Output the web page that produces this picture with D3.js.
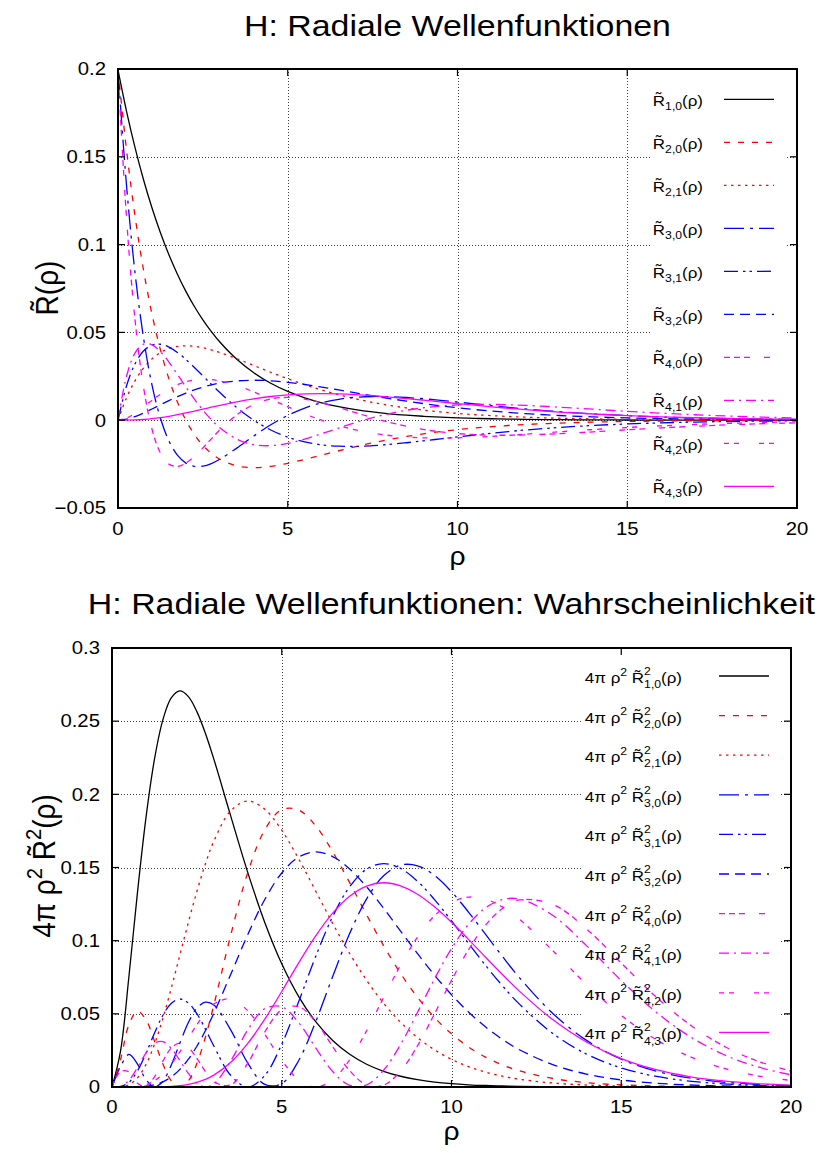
<!DOCTYPE html>
<html><head><meta charset="utf-8">
<script src="https://cdn.jsdelivr.net/npm/d3@7"></script>
<style>
body{margin:0;background:#fff}
text{font-family:"Liberation Sans",Arial,Helvetica,sans-serif;fill:#000}
</style>
</head><body>
<svg id="c" width="824" height="1153" xmlns="http://www.w3.org/2000/svg"></svg>
<script>
// ---------------- DATA ----------------
const rho = [0,0.25,0.5,0.75,1,1.25,1.5,1.75,2,2.25,2.5,2.75,3,3.5,4,4.5,5,5.5,6,6.5,7,7.5,8,8.5,9,9.5,10,10.5,11,11.5,12,13,14,15,16,17,18,19,20];

const stateLabels = ["1,0","2,0","2,1","3,0","3,1","3,2","4,0","4,1","4,2","4,3"];

// radial wave functions R~(rho)
const R10 = [0.19947,0.17603,0.15535,0.13709,0.12099,0.10677,0.09422,0.08315,0.07338,0.06476,0.05715,0.05043,0.04451,0.03466,0.02700,0.02102,0.01637,0.01275,0.00993,0.00773,0.00602,0.00469,0.00365,0.00285,0.00222,0.00173,0.00134,0.00105,0.00082,0.00063,0.00049,0.00030,0.00018,0.00011,0.00007,0.00004,0.00002,0.00001,0.00001];
const R20 = [0.19947,0.15403,0.11651,0.08568,0.06049,0.04004,0.02356,0.01039,0,-0.00810,-0.01429,-0.01891,-0.02225,-0.02600,-0.02700,-0.02628,-0.02456,-0.02232,-0.01986,-0.01740,-0.01506,-0.01290,-0.01096,-0.00925,-0.00776,-0.00647,-0.00538,-0.00445,-0.00367,-0.00302,-0.00247,-0.00165,-0.00109,-0.00072,-0.00047,-0.00030,-0.00020,-0.00013,-0.00008];
const R21 = [0,0.01270,0.02242,0.02968,0.03493,0.03853,0.04080,0.04201,0.04237,0.04206,0.04124,0.04004,0.03855,0.03502,0.03117,0.02731,0.02363,0.02025,0.01720,0.01451,0.01217,0.01016,0.00844,0.00698,0.00576,0.00473,0.00388,0.00317,0.00259,0.00211,0.00171,0.00113,0.00074,0.00048,0.00031,0.00020,0.00013,0.00008,0.00005];
const R30 = [0.19947,0.13386,0.08415,0.04713,0.02016,0.00111,-0.01178,-0.01992,-0.02446,-0.02631,-0.02619,-0.02469,-0.02225,-0.01589,-0.00900,-0.00263,0.00273,0.00691,0.00993,0.01192,0.01305,0.01349,0.01340,0.01292,0.01219,0.01129,0.01030,0.00929,0.00829,0.00733,0.00643,0.00485,0.00358,0.00259,0.00185,0.00131,0.00091,0.00063,0.00043];
const R31 = [0,0.01945,0.03204,0.03938,0.04278,0.04325,0.04164,0.03859,0.03459,0.03005,0.02526,0.02043,0.01574,0.00715,0,-0.00557,-0.00965,-0.01240,-0.01405,-0.01481,-0.01491,-0.01451,-0.01378,-0.01283,-0.01175,-0.01063,-0.00950,-0.00842,-0.00740,-0.00645,-0.00559,-0.00413,-0.00300,-0.00215,-0.00151,-0.00106,-0.00073,-0.00050,-0.00034];
const R32 = [0,0.00058,0.00205,0.00406,0.00638,0.00879,0.01117,0.01342,0.01547,0.01728,0.01883,0.02010,0.02111,0.02238,0.02276,0.02244,0.02157,0.02033,0.01884,0.01722,0.01556,0.01391,0.01232,0.01083,0.00946,0.00821,0.00708,0.00608,0.00520,0.00443,0.00375,0.00267,0.00188,0.00131,0.00090,0.00062,0.00042,0.00028,0.00019];
const R40 = [0.19947,0.11541,0.05745,0.01901,-0.00504,-0.01870,-0.02503,-0.02636,-0.02446,-0.02062,-0.01578,-0.01061,-0.00556,0.00307,0.00900,0.01216,0.01296,0.01202,0.00993,0.00721,0.00427,0.00139,-0.00122,-0.00345,-0.00526,-0.00664,-0.00762,-0.00823,-0.00853,-0.00857,-0.00841,-0.00766,-0.00661,-0.00547,-0.00439,-0.00344,-0.00263,-0.00198,-0.00147];
const R41 = [0,0.02495,0.03823,0.04335,0.04295,0.03904,0.03307,0.02612,0.01895,0.01205,0.00576,0.00028,-0.00431,-0.01077,-0.01394,-0.01450,-0.01321,-0.01075,-0.00769,-0.00446,-0.00136,0.00142,0.00377,0.00566,0.00708,0.00807,0.00868,0.00896,0.00897,0.00878,0.00843,0.00742,0.00625,0.00507,0.00401,0.00310,0.00235,0.00175,0.00129];
const R42 = [0,0.00118,0.00398,0.00754,0.01127,0.01477,0.01778,0.02017,0.02188,0.02291,0.02330,0.02310,0.02239,0.01978,0.01610,0.01190,0.00763,0.00359,0,-0.00304,-0.00550,-0.00738,-0.00871,-0.00958,-0.01003,-0.01016,-0.01002,-0.00968,-0.00919,-0.00861,-0.00796,-0.00661,-0.00531,-0.00416,-0.00319,-0.00240,-0.00178,-0.00131,-0.00094];
const R43 = [0,0.00002,0.00014,0.00041,0.00085,0.00147,0.00224,0.00314,0.00413,0.00520,0.00629,0.00739,0.00846,0.01047,0.01217,0.01349,0.01442,0.01494,0.01511,0.01496,0.01455,0.01394,0.01317,0.01231,0.01138,0.01042,0.00947,0.00853,0.00764,0.00680,0.00602,0.00464,0.00352,0.00262,0.00193,0.00140,0.00101,0.00072,0.00051];

// probability densities 4*pi*rho^2*R~^2(rho)
const P10 = [0,0.02434,0.07582,0.13285,0.18394,0.22383,0.25102,0.26609,0.27067,0.26679,0.25652,0.24173,0.22404,0.18496,0.14652,0.11248,0.08423,0.06181,0.04462,0.03176,0.02234,0.01556,0.01074,0.00735,0.00500,0.00338,0.00227,0.00152,0.00101,0.00067,0.00044,0.00019,0.00008,0.00003,0.00001,0.00001,0,0,0];
const P20 = [0,0.01863,0.04265,0.05190,0.04599,0.03148,0.01569,0.00416,0,0.00417,0.01603,0.03399,0.05601,0.10404,0.14652,0.17574,0.18950,0.18930,0.17847,0.16078,0.13963,0.11764,0.09662,0.07764,0.06123,0.04750,0.03632,0.02742,0.02046,0.01511,0.01106,0.00578,0.00293,0.00145,0.00071,0.00034,0.00016,0.00007,0.00003];
const P21 = [0,0.00013,0.00158,0.00623,0.01533,0.02915,0.04707,0.06791,0.09022,0.11255,0.13360,0.15234,0.16803,0.18881,0.19537,0.18981,0.17547,0.15582,0.13385,0.11182,0.09123,0.07292,0.05726,0.04425,0.03374,0.02540,0.01892,0.01395,0.01019,0.00738,0.00531,0.00269,0.00133,0.00065,0.00031,0.00014,0.00007,0.00003,0.00001];
const P30 = [0,0.01407,0.02224,0.01570,0.00511,0.00002,0.00392,0.01527,0.03008,0.04403,0.05389,0.05794,0.05601,0.03886,0.01628,0.00176,0.00234,0.01814,0.04462,0.07548,0.10488,0.12858,0.14433,0.15161,0.15119,0.14454,0.13342,0.11956,0.10445,0.08923,0.07477,0.04992,0.03152,0.01901,0.01103,0.00619,0.00338,0.00180,0.00094];
const P31 = [0,0.00030,0.00322,0.01096,0.02299,0.03674,0.04903,0.05730,0.06015,0.05745,0.05010,0.03967,0.02801,0.00787,0,0.00791,0.02924,0.05843,0.08924,0.11648,0.13684,0.14888,0.15268,0.14936,0.14057,0.12807,0.11350,0.09820,0.08321,0.06921,0.05663,0.03631,0.02219,0.01301,0.00738,0.00406,0.00218,0.00114,0.00059];
const P32 = [0,0,0.00001,0.00012,0.00051,0.00152,0.00353,0.00693,0.01203,0.01899,0.02783,0.03840,0.05041,0.07710,0.10419,0.12812,0.14623,0.15712,0.16063,0.15749,0.14900,0.13672,0.12214,0.10658,0.09109,0.07643,0.06306,0.05125,0.04110,0.03255,0.02548,0.01515,0.00870,0.00484,0.00262,0.00139,0.00072,0.00037,0.00018];
const P40 = [0,0.01046,0.01037,0.00255,0.00032,0.00687,0.01771,0.02675,0.03008,0.02704,0.01955,0.01069,0.00350,0.00145,0.01628,0.03759,0.05279,0.05493,0.04462,0.02761,0.01121,0.00137,0.00119,0.01082,0.02819,0.05004,0.07289,0.09377,0.11053,0.12199,0.12785,0.12459,0.10758,0.08475,0.06212,0.04293,0.02825,0.01783,0.01086];
const P41 = [0,0.00049,0.00459,0.01328,0.02318,0.02992,0.03093,0.02627,0.01805,0.00924,0.00261,0.00001,0.00210,0.01785,0.03907,0.05353,0.05484,0.04395,0.02677,0.01057,0.00114,0.00142,0.01145,0.02908,0.05103,0.07385,0.09458,0.11115,0.12240,0.12805,0.12848,0.11704,0.09610,0.07280,0.05169,0.03480,0.02240,0.01387,0.00831];
const P42 = [0,0,0.00005,0.00040,0.00160,0.00428,0.00894,0.01565,0.02406,0.03339,0.04262,0.05070,0.05671,0.06023,0.05210,0.03603,0.01828,0.00491,0,0.00492,0.01863,0.03845,0.06107,0.08326,0.10247,0.11702,0.12610,0.12973,0.12842,0.12306,0.11467,0.09281,0.06956,0.04900,0.03278,0.02099,0.01295,0.00773,0.00449];
const P43 = [0,0,0,0,0.00001,0.00004,0.00014,0.00038,0.00086,0.00172,0.00311,0.00519,0.00810,0.01687,0.02977,0.04633,0.06528,0.08487,0.10326,0.11881,0.13037,0.13733,0.13959,0.13750,0.13175,0.12316,0.11259,0.10090,0.08879,0.07686,0.06553,0.04573,0.03043,0.01944,0.01199,0.00716,0.00416,0.00236,0.00131];

const xTickValues = [0,5,10,15,20];
const xTickLabels = ["0","5","10","15","20"];
const yTickValuesTop = [-0.05,0,0.05,0.1,0.15,0.2];
const yTickLabelsTop = ["\u22120.05","0","0.05","0.1","0.15","0.2"];
const yTickValuesBot = [0,0.05,0.1,0.15,0.2,0.25,0.3];
const yTickLabelsBot = ["0","0.05","0.1","0.15","0.2","0.25","0.3"];

const titleTop = "H: Radiale Wellenfunktionen";
const titleBot = "H: Radiale Wellenfunktionen: Wahrscheinlichkeit";

const topSeries = [R10,R20,R21,R30,R31,R32,R40,R41,R42,R43];
const botSeries = [P10,P20,P21,P30,P31,P32,P40,P41,P42,P43];

// ---------------- STYLE ----------------
const colors = ["#000000","#ff0000","#ff0000","#0000ff","#0000ff","#0000ff","#ff00ff","#ff00ff","#ff00ff","#ff00ff"];
const dashes = [null,"6,8","2.5,4.5","20,6,3,6","14,5,2.5,4,2.5,5","10,6","6,4,6,4,6,14","10,5,2,5","5,5,5,20",null];
const SX = 1.13; // horizontal stretch of glyphs in the reference
const LW = 1.3;
const RT = "R\u0303"; // R with tilde

const svg = d3.select("#c");
const FONT = '"Liberation Sans",Arial,Helvetica,sans-serif';

function measure(str, fs){
  const t = svg.append("text").attr("font-size", fs).attr("font-family", FONT).text(str);
  const w = t.node().getComputedTextLength();
  t.remove();
  return w;
}

// one <text> element made of positioned <tspan>s
function richText(parent, x, y, parts, size, anchor, rotate){
  let cx = 0, lastStart = 0;
  const placed = [];
  parts.forEach(p => {
    if (p.gap !== undefined) { cx += p.gap*size; return; }
    const fs = size*(p.s||1);
    const w = measure(p.t, fs);
    const start = p.stack ? lastStart : cx;
    placed.push({t:p.t, fs, x:start, y:(p.dy||0)*size});
    if (p.stack) { cx = Math.max(cx, start+w); }
    else { lastStart = start; cx = start+w; }
  });
  let off = 0;
  if (anchor === "end") off = -cx; else if (anchor === "middle") off = -cx/2;
  const g = parent.append("g")
    .attr("transform", `translate(${x},${y}) scale(${SX},1)` + (rotate ? ` rotate(${rotate})` : ""));
  const text = g.append("text").attr("font-size", size);
  placed.forEach(q => {
    text.append("tspan").attr("x", q.x+off).attr("y", q.y).attr("font-size", q.fs).text(q.t);
  });
  return g;
}
function plainText(parent, x, y, str, size, anchor){
  return richText(parent, x, y, [{t:str}], size, anchor);
}

function drawPanel(opt){
  const {L,R,T,B,ydom,yTicks,yLabels,series,title,titleY,legendParts,legendRect,legX1,legX2,legY0,legDY,legTextRight,legBaseOff,xLabY,xTickLabY,yTickLabX,idx} = opt;
  const x = d3.scaleLinear().domain([0,20]).range([L,R]);
  const y = d3.scaleLinear().domain(ydom).range([B,T]);
  const g = svg.append("g");
  const clipId = "clip"+idx;
  svg.append("clipPath").attr("id",clipId).append("rect").attr("x",L).attr("y",T).attr("width",R-L).attr("height",B-T);

  const grid = g.append("g").attr("stroke","#000").attr("stroke-opacity",0.75).attr("stroke-width",1).attr("stroke-dasharray","1,2");
  xTickValues.slice(1,-1).forEach(v=>{
    grid.append("line").attr("x1",Math.round(x(v))+0.5).attr("x2",Math.round(x(v))+0.5).attr("y1",T).attr("y2",B);
  });
  yTicks.forEach(v=>{
    if (v===ydom[0]||v===ydom[1]) return;
    grid.append("line").attr("y1",Math.round(y(v))+0.5).attr("y2",Math.round(y(v))+0.5).attr("x1",L).attr("x2",R);
  });
  g.append("rect").attr("x",legendRect[0]).attr("y",legendRect[1]).attr("width",legendRect[2]-legendRect[0]).attr("height",legendRect[3]-legendRect[1]).attr("fill","#fff");

  const line = d3.line().x((d,i)=>x(rho[i])).y(d=>y(d)).curve(d3.curveCatmullRom.alpha(0.5));
  const cg = g.append("g").attr("clip-path",`url(#${clipId})`);
  series.forEach((s,k)=>{
    cg.append("path").attr("d",line(s)).attr("fill","none").attr("stroke",colors[k]).attr("stroke-width",LW)
      .attr("stroke-dasharray",dashes[k]);
  });

  g.append("rect").attr("x",L).attr("y",T).attr("width",R-L).attr("height",B-T).attr("fill","none").attr("stroke","#000").attr("stroke-width",2);
  const tk = g.append("g").attr("stroke","#000").attr("stroke-width",1.2);
  xTickValues.forEach(v=>{
    const xx = x(v);
    tk.append("line").attr("x1",xx).attr("x2",xx).attr("y1",B).attr("y2",B-7);
    tk.append("line").attr("x1",xx).attr("x2",xx).attr("y1",T).attr("y2",T+7);
  });
  yTicks.forEach(v=>{
    const yy = y(v);
    tk.append("line").attr("x1",L).attr("x2",L+7).attr("y1",yy).attr("y2",yy);
    tk.append("line").attr("x1",R).attr("x2",R-7).attr("y1",yy).attr("y2",yy);
  });
  xTickValues.forEach((v,i)=> plainText(g, x(v), xTickLabY, xTickLabels[i], 18, "middle"));
  yTicks.forEach((v,i)=> plainText(g, yTickLabX, y(v)+6.3, yLabels[i], 18, "end"));
  plainText(g, (L+R)/2, xLabY, "\u03c1", 25, "middle");
  plainText(g, (L+R)/2, titleY, title, 30, "middle");

  series.forEach((s,k)=>{
    const ly = legY0 + k*legDY;
    g.append("line").attr("x1",legX1).attr("x2",legX2).attr("y1",ly).attr("y2",ly)
      .attr("stroke",colors[k]).attr("stroke-width",LW).attr("stroke-dasharray",dashes[k]);
    richText(g, legTextRight, ly+legBaseOff, legendParts(stateLabels[k]), 15, "end");
  });
  return {x,y,g};
}

const topParts = lab => [{t:RT},{t:lab,s:0.72,dy:0.3},{t:"(\u03c1)"}];
const botParts = lab => [{t:"4\u03c0"},{gap:0.28},{t:"\u03c1"},{t:"2",s:0.72,dy:-0.5},{gap:0.28},{t:RT},{t:"2",s:0.72,dy:-0.53},{t:lab,s:0.72,dy:0.34,stack:true},{t:"(\u03c1)"}];

const panelTop = drawPanel({L:118,R:797,T:69,B:508,ydom:[-0.05,0.2],yTicks:yTickValuesTop,yLabels:yTickLabelsTop,
  series:topSeries,title:titleTop,titleY:36,legendParts:topParts,legendRect:[651,74,786,506],
  legX1:724,legX2:774,legY0:99.3,legDY:43.0,legTextRight:703,legBaseOff:6.5,xLabY:565,xTickLabY:535,yTickLabX:106,idx:0});
const panelBot = drawPanel({L:112,R:791,T:648,B:1087,ydom:[0,0.3],yTicks:yTickValuesBot,yLabels:yTickLabelsBot,
  series:botSeries,title:titleBot,titleY:614,legendParts:botParts,legendRect:[582,652,779,1052],
  legX1:719,legX2:769,legY0:676,legDY:39.6,legTextRight:682,legBaseOff:7,xLabY:1140,xTickLabY:1113,yTickLabX:100,idx:1});

richText(svg, 58, 288, [{t:RT},{t:"(\u03c1)"}], 28, "middle", -90);
richText(svg, 55, 866, [{t:"4\u03c0"},{gap:0.28},{t:"\u03c1"},{t:"2",s:0.72,dy:-0.42},{gap:0.28},{t:RT},{t:"2",s:0.72,dy:-0.45},{t:"(\u03c1)"}], 28, "middle", -90);
</script>
</body></html>
